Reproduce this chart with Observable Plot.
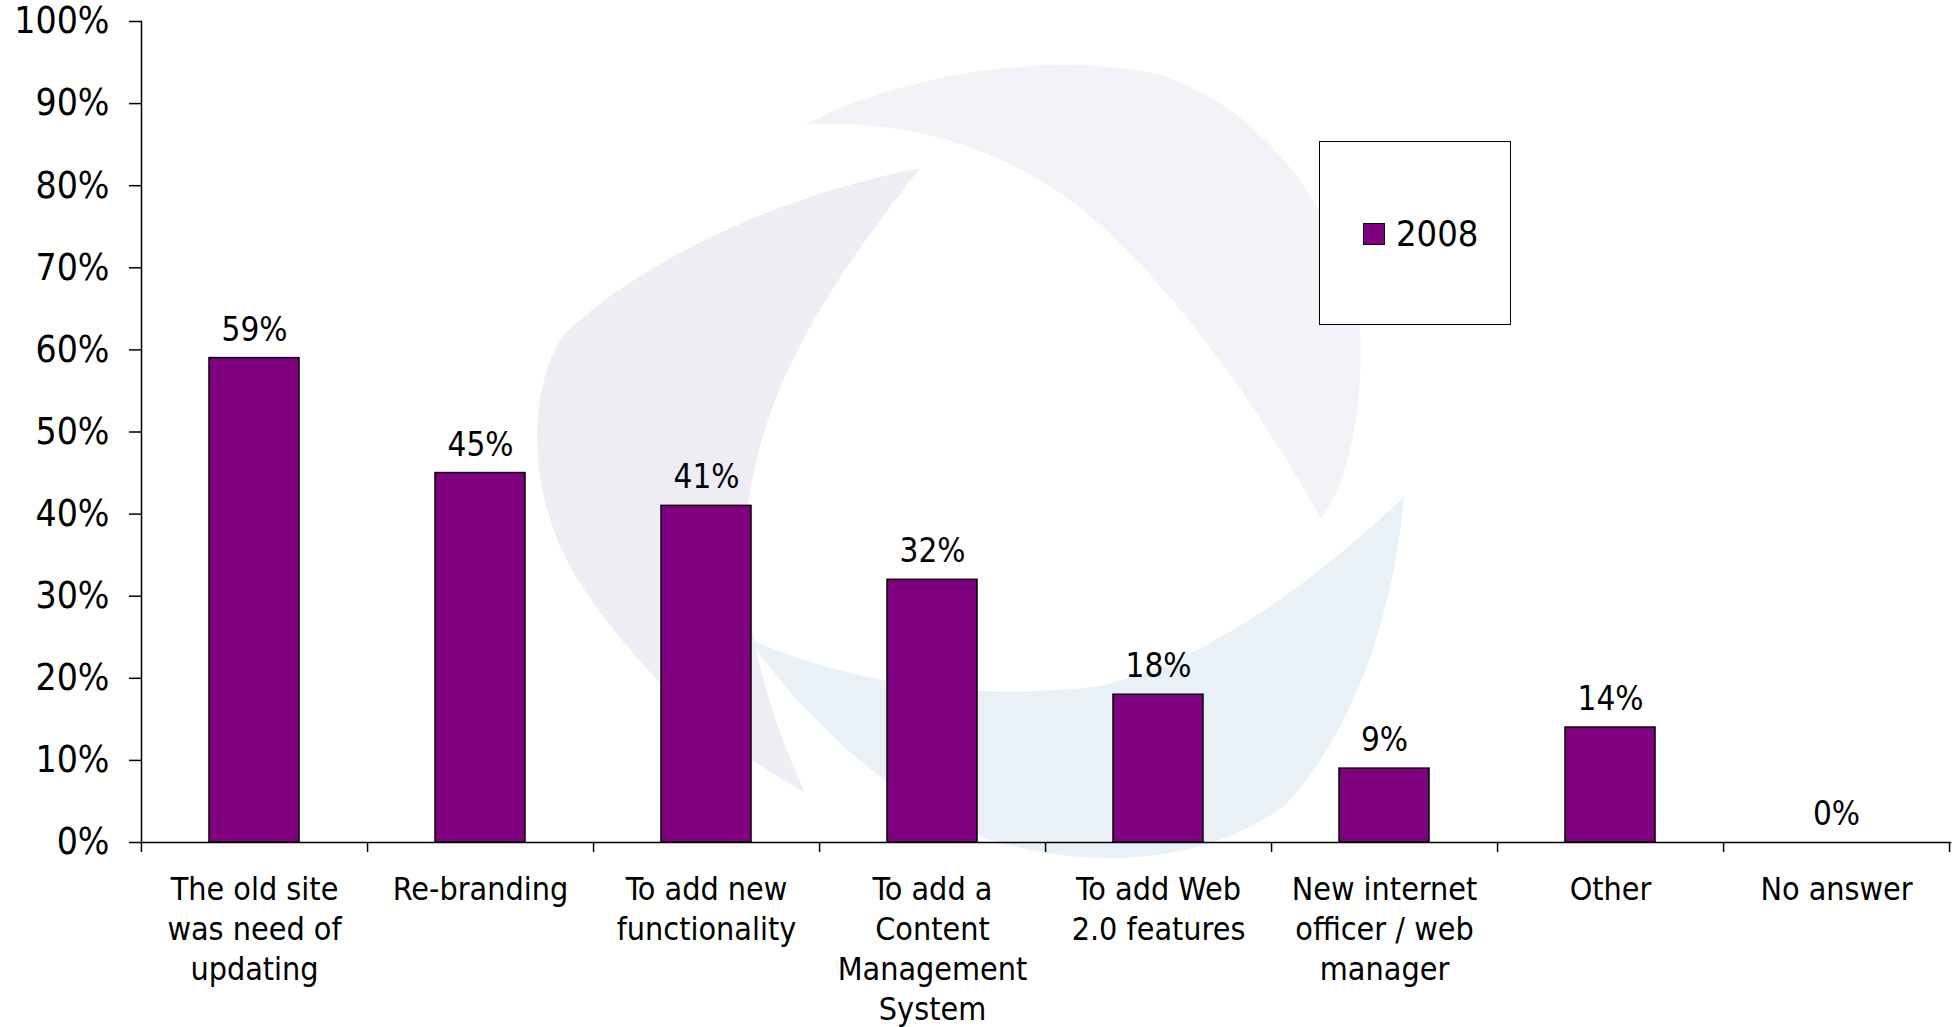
<!DOCTYPE html>
<html>
<head>
<meta charset="utf-8">
<script src="https://cdn.jsdelivr.net/npm/d3@7"></script>
<script src="https://cdn.jsdelivr.net/npm/@observablehq/plot@0.6"></script>
<style>
  html, body { margin: 0; padding: 0; background: #fff; }
  #wrap { position: relative; width: 1957px; height: 1027px; font-family: "DejaVu Sans Condensed", "DejaVu Sans", sans-serif; }
  #wm { position: absolute; left: 0; top: 0; }
  #chart { position: absolute; left: 0; top: 0; }
  #legend { position: absolute; left: 1319px; top: 141px; width: 190px; height: 182px; border: 1.5px solid #000; background: #fff; }
  #legend .sw { position: absolute; left: 43px; top: 81px; width: 20px; height: 20px; background: #800080; border: 1.5px solid #000; }
  #legend .lb { position: absolute; left: 76px; top: 70px; font-size: 36px; line-height: 44px; color: #000; }
</style>
</head>
<body>
<div id="wrap">
  <svg id="wm" width="1957" height="1027" viewBox="0 0 1568 823">
    <path fill="#efedf3" d="M737,135 C650,150 520,200 450,270 C420,320 425,400 460,460 C510,540 580,600 645,635 C610,560 590,480 600,400 C615,300 670,220 737,135 Z"/>
    <path fill="#f3f2f6" d="M645,100 C720,60 840,40 930,60 C1020,90 1080,180 1090,270 C1092,330 1080,390 1058,415 C1010,330 950,240 870,170 C800,115 720,95 645,100 Z"/>
    <path fill="#e9f1f7" d="M1125,398 C1118,480 1090,580 1030,645 C970,690 880,700 790,672 C710,640 640,570 600,512 C680,548 780,562 880,550 C970,530 1060,460 1125,398 Z"/>
  </svg>
  <div id="chart"></div>
  <div id="legend"><div class="sw"></div><div class="lb">2008</div></div>
</div>
<script>
const categories = [
  "The old site\nwas need of\nupdating",
  "Re-branding",
  "To add new\nfunctionality",
  "To add a\nContent\nManagement\nSystem",
  "To add Web\n2.0 features",
  "New internet\nofficer / web\nmanager",
  "Other",
  "No answer"
];
const values2008 = [59, 45, 41, 32, 18, 9, 14, 0];
const yTicks = [0, 10, 20, 30, 40, 50, 60, 70, 80, 90, 100];

const data = categories.map((c, i) => ({cat: c, value: values2008[i]}));

const W = 1957, H = 1027;
const mL = 141, mR = 7, mT = 21, mB = 185;
const step = (W - mL - mR) / categories.length;

const chart = Plot.plot({
  width: W,
  height: H,
  marginLeft: mL,
  marginRight: mR,
  marginTop: mT,
  marginBottom: mB,
  style: {background: "transparent", fontFamily: "'DejaVu Sans Condensed', 'DejaVu Sans', sans-serif", color: "#000"},
  x: {domain: categories, paddingInner: 0.6, paddingOuter: 0.3, label: null},
  y: {domain: [0, 100], label: null},
  marks: [
    Plot.barY(data, {x: "cat", y: "value", fill: "#800080", stroke: "#000", strokeWidth: 1.5}),
    Plot.text(data, {x: "cat", y: "value", text: d => d.value + "%", dy: -28, fontSize: 33, fill: "#000"}),
    Plot.frame({anchor: "left", stroke: "#000", strokeWidth: 1.5}),
    Plot.frame({anchor: "bottom", stroke: "#000", strokeWidth: 1.5}),
    Plot.axisY({ticks: yTicks, tickFormat: d => d + "%", tickSize: 12, tickPadding: 20, fontSize: 37, stroke: "#000", strokeWidth: 1.5, label: null}),
    Plot.axisX({ticks: categories, tickSize: 0, tickPadding: 29, fontSize: 32, lineHeight: 1.25, label: null, textOverflow: null, lineWidth: Infinity}),
    Plot.axisX({ticks: categories, tickSize: 10, tickFormat: () => "", dx: step / 2, stroke: "#000", strokeWidth: 1.5, label: null}),
    Plot.axisX({ticks: [categories[0]], tickSize: 10, tickFormat: () => "", dx: -step / 2, stroke: "#000", strokeWidth: 1.5, label: null})
  ]
});
document.getElementById("chart").appendChild(chart);
</script>
</body>
</html>
